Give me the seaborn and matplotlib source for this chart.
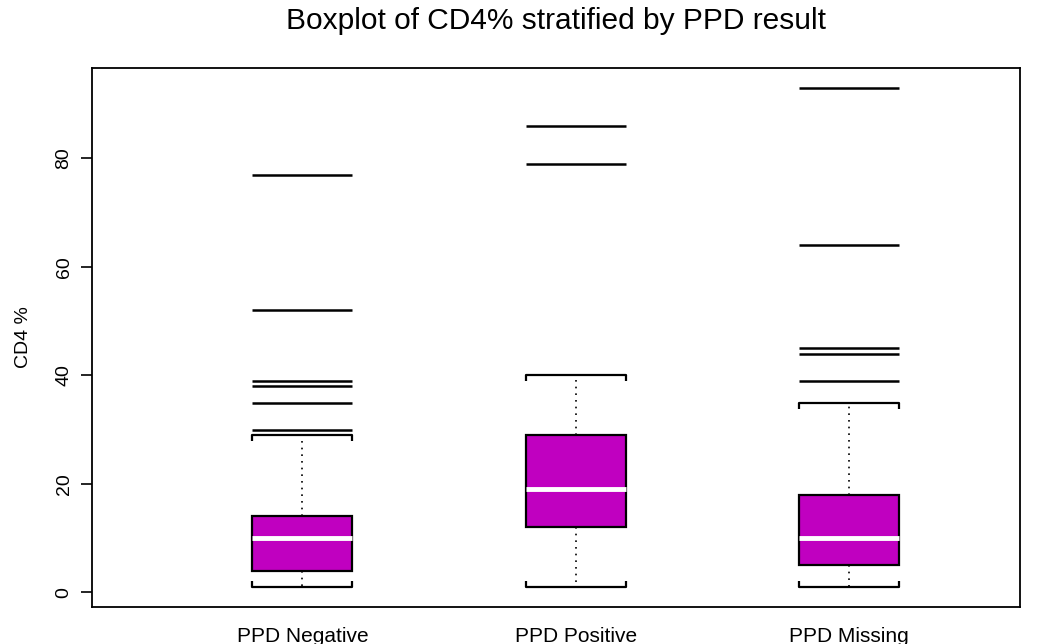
import numpy as np
import pandas as pd
import matplotlib
matplotlib.use("Agg")
import matplotlib.pyplot as plt
import seaborn as sns

# Categories and CD4% values per group (read/estimated from the chart)
categories = ["PPD Negative", "PPD Positive", "PPD Missing"]

cd4_negative = [1, 2, 2, 3, 3, 3, 4, 4, 5, 6, 7, 8, 9, 9, 10, 11, 11, 12, 12, 13, 14,
                14, 29, 30, 35, 38, 39, 52, 77]
cd4_positive = [1, 5, 9, 12, 15, 17, 19, 22, 26, 29, 40, 79, 86]
cd4_missing = [1, 2, 3, 3, 4, 4, 5, 6, 7, 8, 8, 9, 10, 11, 12, 14, 15, 17, 18,
               35, 39, 44, 45, 64, 93]

yticks = [0, 20, 40, 60, 80]

df = pd.DataFrame({
    "group": ([categories[0]] * len(cd4_negative) + [categories[1]] * len(cd4_positive)
              + [categories[2]] * len(cd4_missing)),
    "cd4": cd4_negative + cd4_positive + cd4_missing,
})

sns.set_theme(style="white")
plt.rcParams["font.family"] = ["Liberation Sans", "DejaVu Sans"]
for k in ["text.color", "axes.labelcolor", "xtick.color", "ytick.color", "axes.edgecolor"]:
    plt.rcParams[k] = "black"

fig = plt.figure(figsize=(10.5, 6.44), dpi=100)
ax = fig.add_axes([0.0876, 0.0575, 0.9714 - 0.0876, 0.8944 - 0.0575])

fill = "#C000C0"
bw = 0.366
sns.boxplot(
    data=df, x="group", y="cd4", order=categories, ax=ax,
    color=fill, saturation=1, width=bw, linewidth=1.6, linecolor="black",
    whis=1.5, capwidths=bw,
    boxprops=dict(facecolor=fill, edgecolor="black", linewidth=1.6),
    medianprops=dict(color="white", linewidth=3.5, solid_capstyle="butt"),
    whiskerprops=dict(color="black", linestyle=(0, (1, 3)), linewidth=1.2),
    capprops=dict(color="black", linewidth=1.6),
    flierprops=dict(marker="_", markersize=72, markeredgewidth=1.8,
                    markeredgecolor="black", markerfacecolor="black"),
)

# small end ticks on the whisker caps (pointing toward the box)
for cont in ax.containers:
    caps = getattr(cont, "caps", None)
    meds = getattr(cont, "medians", None)
    if caps is None:
        continue
    for i, cap in enumerate(caps):
        med_y = meds[i // 2].get_ydata()[0]
        cy = cap.get_ydata()[0]
        cap.set_marker(2 if cy < med_y else 3)
        cap.set_markersize(4)
        cap.set_markeredgewidth(1.6)
        cap.set_markeredgecolor("black")

ax.set_xlim(0.23 - 1, 3.625 - 1)
ax.set_ylim(-2.68, 96.68)
ax.set_yticks(yticks)
ax.set_yticklabels([str(t) for t in yticks], rotation=90, va="center", fontsize=14)
ax.tick_params(axis="y", which="both", left=True, direction="out", length=8,
               width=1.2, color="black", pad=6)
ax.tick_params(axis="x", bottom=False, pad=8.5)
for lab in ax.get_xticklabels():
    lab.set_fontsize(15)
ax.set_xlabel("")
ax.set_ylabel("CD4 %", fontsize=14, labelpad=17)
for s in ax.spines.values():
    s.set_visible(True)
    s.set_color("black")
    s.set_linewidth(1.3)

fig.text(0.5295, 1 - 29 / 644, "Boxplot of CD4% stratified by PPD result",
         fontsize=21.5, ha="center", va="baseline")

fig.savefig("out.png", dpi=100, facecolor="white")
